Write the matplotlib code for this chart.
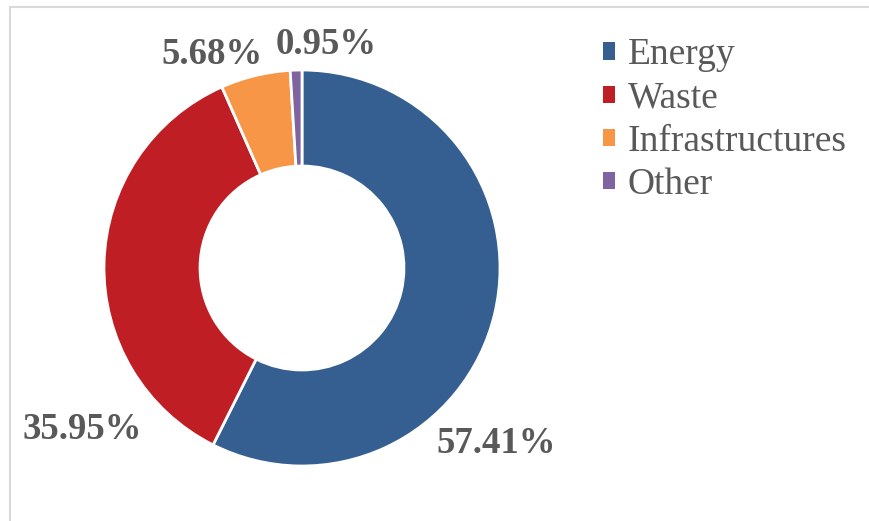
import matplotlib
matplotlib.use('Agg')
import matplotlib.pyplot as plt
import matplotlib.patches as mpatches

# data
categories = ['Energy', 'Waste', 'Infrastructures', 'Other']
shares = [57.41, 35.95, 5.68, 0.95]
pct_labels = ['57.41%', '35.95%', '5.68%', '0.95%']

colors = ['#355F91', '#BE1E24', '#F79646', '#8064A2']
# label positions in pie units (radius = 1)
label_pos = [(0.98, -0.885), (-1.11, -0.815), (-0.455, 1.08), (0.12, 1.13)]
text_gray = '#595959'

plt.rcParams['font.family'] = ['Liberation Serif', 'DejaVu Serif']

W, H = 869, 521
fig = plt.figure(figsize=(W / 100, H / 100), dpi=100)

cx, cy, r = 302, 268, 198
ax = fig.add_axes([(cx - r) / W, (H - cy - r) / H, 2 * r / W, 2 * r / H])
wedges, _ = ax.pie(shares, colors=colors, startangle=90, counterclock=False,
                   radius=1, wedgeprops=dict(width=0.485, edgecolor='white', linewidth=2))
ax.set_xlim(-1, 1)
ax.set_ylim(-1, 1)
ax.set_aspect('equal')
ax.axis('off')

for lab, (x, y) in zip(pct_labels, label_pos):
    ax.text(x, y, lab, ha='center', va='center', fontsize=26.5, fontweight='bold',
            color=text_gray, clip_on=False)

handles = [mpatches.Patch(facecolor=c, edgecolor='none') for c in colors]
fig.legend(handles, categories, loc='upper left',
           bbox_to_anchor=(603 / W, 1 - 38 / H), frameon=False,
           fontsize=27, handlelength=0.33, handleheight=0.33,
           handletextpad=0.33, labelspacing=0.23, borderpad=0,
           borderaxespad=0, labelcolor=text_gray)

# chart area border (partially visible)
fig.add_artist(mpatches.Rectangle((9.5 / W, -0.1), 1.2, 1.1 - 6.5 / H,
                                  transform=fig.transFigure, fill=False,
                                  edgecolor='#D9D9D9', linewidth=1.5))

fig.savefig('out.png', dpi=100)
